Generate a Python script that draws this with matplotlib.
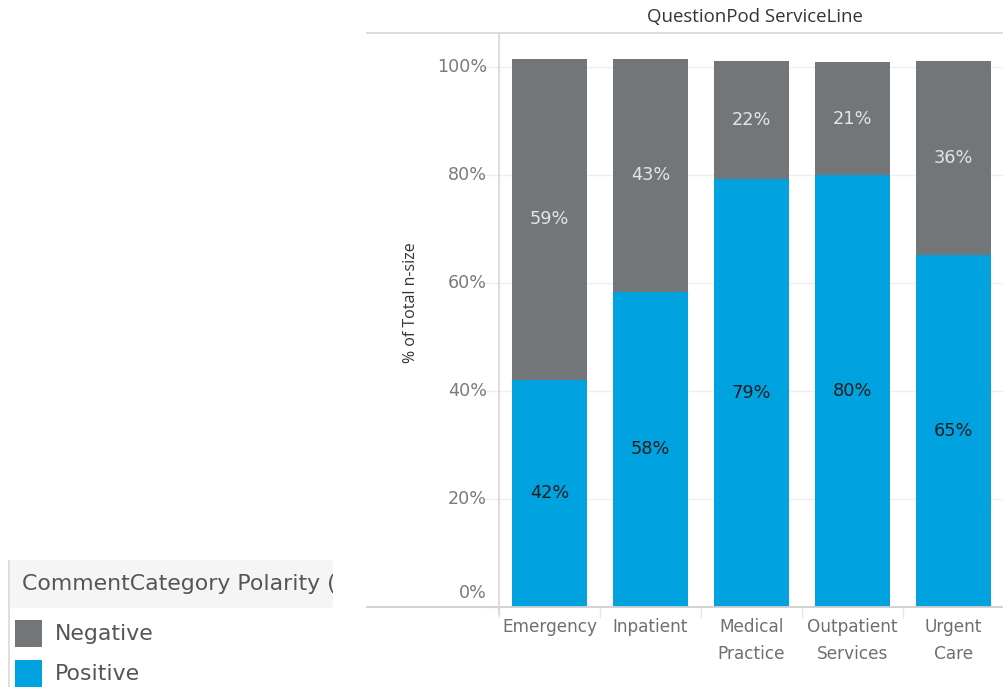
import matplotlib
matplotlib.use("Agg")
import matplotlib.pyplot as plt
from matplotlib.lines import Line2D
from matplotlib.patches import Rectangle
import matplotlib.transforms as mtrans

categories = ["Emergency", "Inpatient", "Medical\nPractice", "Outpatient\nServices", "Urgent\nCare"]
positive = [42.1, 58.4, 79.3, 80.0, 65.2]
negative = [59.4, 43.1, 21.8, 20.9, 35.9]
yticks = [0, 20, 40, 60, 80, 100]
series_names = ["Negative", "Positive"]
title = "QuestionPod ServiceLine"
ylabel = "% of Total n-size"
legend_title = "CommentCategory Polarity (group)"

GRAY = "#727679"
BLUE = "#00a3df"
BODY = ["DejaVu Sans"]
HEAD = ["Open Sans", "DejaVu Sans"]
plt.rcParams['font.family'] = BODY

W, H = 1004, 687
fig = plt.figure(figsize=(W / 100, H / 100), dpi=100)

def fx(px):
    return px / W

def fy(py):
    return 1 - py / H

ax_left, ax_right, ax_top, ax_bot = 499, 1004, 33, 607
ax = fig.add_axes([fx(ax_left), fy(ax_bot), fx(ax_right - ax_left), (ax_bot - ax_top) / H])
px_per_cat = 102.5
first_center = 549
x0 = -(first_center - ax_left) / px_per_cat
ax.set_xlim(x0, x0 + (ax_right - ax_left) / px_per_cat)
ax.set_ylim(0, (ax_bot - ax_top) / 5.4)

x = list(range(len(categories)))
ax.bar(x, positive, width=0.75, color=BLUE, zorder=3)
ax.bar(x, negative, width=0.75, bottom=positive, color=GRAY, zorder=3)

for i in x:
    ax.text(i, positive[i] / 2, f"{round(positive[i])}%", ha="center", va="center",
            fontsize=12.8, color="#1e1e1e", zorder=4)
    ax.text(i, positive[i] + negative[i] / 2, f"{round(negative[i])}%", ha="center", va="center",
            fontsize=12.8, color="#e4e4e4", zorder=4)

for s in ax.spines.values():
    s.set_visible(False)
ax.set_yticks(yticks)
ax.set_yticklabels([])
ax.tick_params(axis="y", length=12, color="#eeeeee", width=1)
ax.yaxis.grid(True, color="#eeeeee", linewidth=1, zorder=0)
ax.set_xticks([i - 0.5 for i in range(len(categories) + 1)])
ax.set_xticklabels([])
ax.tick_params(axis="x", length=8, color="#e6e6e6", width=1)

for v in yticks:
    off = mtrans.ScaledTranslation(-12 / 100, (14 / 100 if v == 0 else 0), fig.dpi_scale_trans)
    ax.text(0, v, f"{v}%", ha="right", va="center", fontsize=12.6, color="#7a7a7a",
            transform=mtrans.blended_transform_factory(ax.transAxes, ax.transData) + off)

for i, c in enumerate(categories):
    lines = c.split("\n")
    for j, ln in enumerate(lines):
        ax.text(i, 0, ln, ha="center", va="center", fontsize=12.2, color="#6f6f6f",
                transform=mtrans.blended_transform_factory(ax.transData, fig.transFigure)
                + mtrans.ScaledTranslation(0, fy(627 + 27 * j) * H / 100, fig.dpi_scale_trans),
                clip_on=False)

# frame lines
fig.add_artist(Line2D([fx(367), fx(1004)], [fy(33), fy(33)], color="#d9d9d9", lw=1.3))
fig.add_artist(Line2D([fx(367), fx(1004)], [fy(607), fy(607)], color="#cfcfcf", lw=1.3))
fig.add_artist(Line2D([fx(499), fx(499)], [fy(33), fy(614)], color="#d9d9d9", lw=1.3))

fig.text(fx(755), fy(17), title, ha="center", va="center", fontsize=13.4, color="#333333", family=HEAD)
fig.text(fx(411), fy(303), ylabel, ha="center", va="center", rotation=90, fontsize=11.5,
         color="#333333", family=HEAD)

# legend
lax = fig.add_axes([fx(8), 0, fx(333 - 8), fy(560)])
lax.set_xlim(8, 333)
lax.set_ylim(687, 560)
lax.axis("off")
lax.add_patch(Rectangle((8, 560), 325, 48, facecolor="#f5f5f5", edgecolor="none"))
lax.add_artist(Line2D([8.5, 8.5], [560, 687], color="#d9d9d9", lw=1.2))
lax.text(22, 584, legend_title, ha="left", va="center", fontsize=15.8, color="#555555", clip_on=True)
colors = [GRAY, BLUE]
for k, (name, col) in enumerate(zip(series_names, colors)):
    yc = 634 + 40 * k
    lax.add_patch(Rectangle((15, yc - 13.5), 27, 27, facecolor=col, edgecolor="none"))
    lax.text(55, yc, name, ha="left", va="center", fontsize=15.8, color="#555555", clip_on=True)

fig.savefig("out.png", dpi=100)
